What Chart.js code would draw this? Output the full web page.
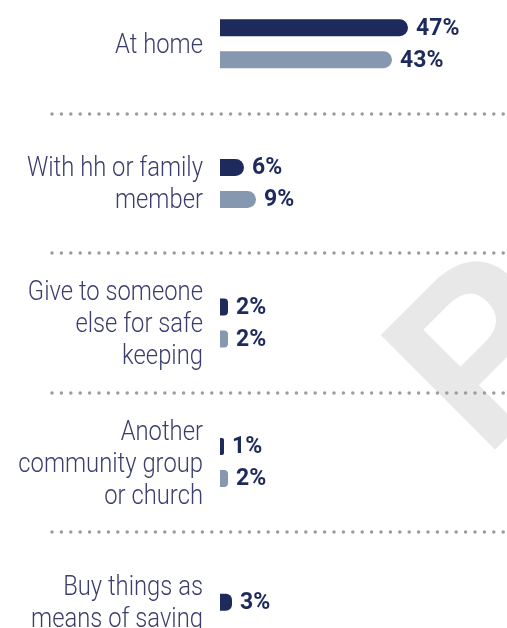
<!DOCTYPE html>
<html>
<head>
<meta charset="utf-8">
<script src="https://cdn.jsdelivr.net/npm/chart.js@4.4.1/dist/chart.umd.min.js"></script>
<style>
    html, body {
        margin: 0;
        width: 507px;
        height: 628px;
        overflow: hidden;
        background: #ffffff;
    }
    .chart-box {
        position: absolute;
        left: 0;
        top: -26px;
        width: 507px;
        height: 698px;
    }
</style>
</head>
<body>
<div class="chart-box"><canvas id="savingChart"></canvas></div>
<script>
const categories = [
    ["At home"],
    ["With hh or family", "member"],
    ["Give to someone", "else for safe", "keeping"],
    ["Another", "community group", "or church"],
    ["Buy things as", "means of saving"],
];
const seriesOne = [47, 6, 2, 1, 3];
const seriesTwo = [43, 9, 2, 2, null];

const DARK = "#1f2a5c";
const SLATE = "#8697b0";
const LABEL_COLOR = "#3b3e6d";

// big faded letter sitting behind the bars
const watermark = {
    id: "watermark",
    beforeDraw(chart) {
        const ctx = chart.ctx;
        ctx.save();
        ctx.translate(378, 355);
        ctx.rotate(-Math.PI / 4);
        ctx.fillStyle = "#e8e8e8";
        ctx.font = "bold 235px 'Liberation Sans', Arial, sans-serif";
        ctx.textBaseline = "alphabetic";
        ctx.fillText("P", -18, 168);
        ctx.restore();
    }
};

// dotted rules between the groups
const separators = {
    id: "separators",
    beforeDatasetsDraw(chart) {
        const ctx = chart.ctx;
        const yScale = chart.scales.y;
        ctx.save();
        ctx.strokeStyle = "#9c9c9c";
        ctx.lineWidth = 3.5;
        ctx.lineCap = "round";
        ctx.setLineDash([0, 9.4]);
        for (let i = 0; i < categories.length - 1; i++) {
            const y = Math.round((yScale.getPixelForValue(i) + yScale.getPixelForValue(i + 1)) / 2);
            ctx.beginPath();
            ctx.moveTo(52, y);
            ctx.lineTo(chart.width, y);
            ctx.stroke();
        }
        ctx.restore();
    }
};

// category names, narrow and right aligned against the bars
const categoryLabels = {
    id: "categoryLabels",
    afterDraw(chart) {
        const ctx = chart.ctx;
        const yScale = chart.scales.y;
        const right = chart.chartArea.left - 17;
        const lineHeight = 32;
        ctx.save();
        ctx.fillStyle = LABEL_COLOR;
        ctx.font = "300 28px Roboto, sans-serif";
        ctx.textAlign = "right";
        ctx.textBaseline = "middle";
        categories.forEach((lines, i) => {
            const center = yScale.getPixelForValue(i) + 2;
            const top = center - (lines.length - 1) * lineHeight / 2;
            lines.forEach((line, k) => {
                ctx.save();
                ctx.translate(right, top + k * lineHeight);
                ctx.scale(0.85, 1);
                ctx.fillText(line, 0, 0);
                ctx.restore();
            });
        });
        ctx.restore();
    }
};

// percentage text at the end of each bar
const valueLabels = {
    id: "valueLabels",
    afterDatasetsDraw(chart) {
        const ctx = chart.ctx;
        ctx.save();
        ctx.fillStyle = DARK;
        ctx.font = "bold 23px Roboto, sans-serif";
        ctx.textAlign = "left";
        ctx.textBaseline = "middle";
        chart.data.datasets.forEach((dataset, i) => {
            const meta = chart.getDatasetMeta(i);
            meta.data.forEach((bar, j) => {
                const value = dataset.data[j];
                if (value === null || value === undefined) {
                    return;
                }
                ctx.fillText(value + "%", bar.x + 8, bar.y + 1);
            });
        });
        ctx.restore();
    }
};

new Chart(document.getElementById("savingChart"), {
    type: "bar",
    data: {
        labels: categories.map(lines => lines.join(" ")),
        datasets: [
            {
                label: "series one",
                data: seriesOne,
                backgroundColor: DARK,
            },
            {
                label: "series two",
                data: seriesTwo,
                backgroundColor: SLATE,
            },
        ],
    },
    options: {
        indexAxis: "y",
        responsive: true,
        maintainAspectRatio: false,
        animation: false,
        layout: {padding: 0},
        datasets: {
            bar: {
                categoryPercentage: 0.4585,
                barPercentage: 1,
                maxBarThickness: 17,
                borderRadius: 9,
                borderSkipped: "start",
                skipNull: true,
            }
        },
        plugins: {
            legend: {display: false},
            tooltip: {enabled: false},
        },
        scales: {
            x: {
                display: false,
                min: 0,
                max: 71.75,
            },
            y: {
                afterFit(scale) {
                    scale.width = 220;
                },
                border: {display: false},
                grid: {display: false, drawTicks: false},
                ticks: {display: false},
            },
        },
    },
    plugins: [watermark, separators, categoryLabels, valueLabels],
});
</script>
</body>
</html>
